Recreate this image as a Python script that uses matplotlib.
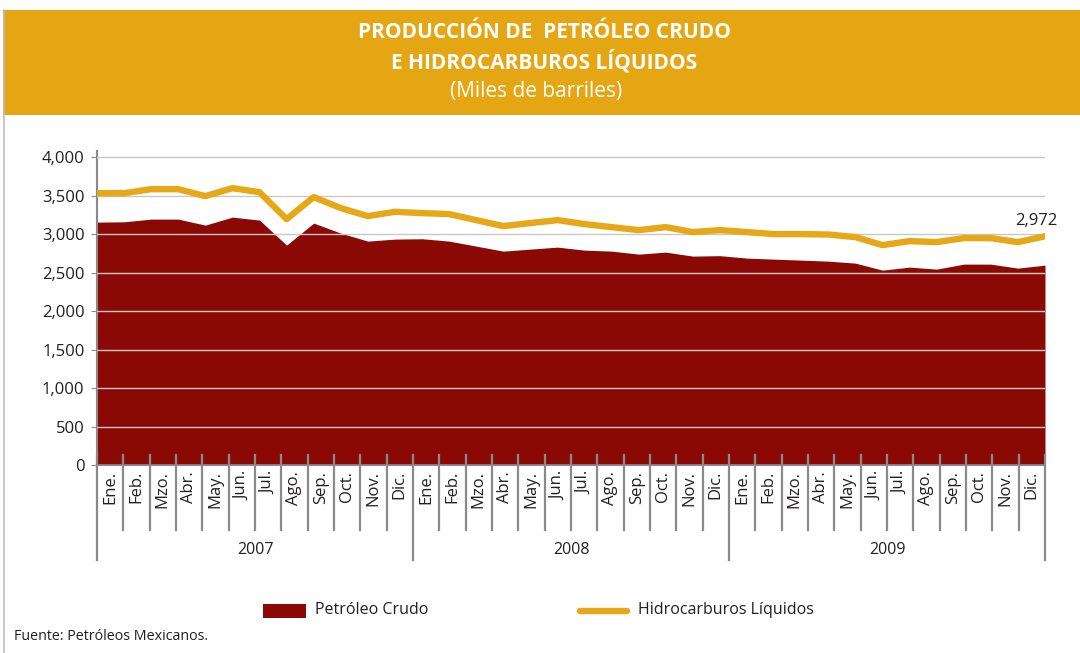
import matplotlib
matplotlib.use("Agg")
import matplotlib.pyplot as plt
from matplotlib.patches import Rectangle
from matplotlib.lines import Line2D
import matplotlib.transforms as mtransforms
import numpy as np

plt.rcParams['font.family'] = ['Open Sans', 'DejaVu Sans']

months = ["Ene.", "Feb.", "Mzo.", "Abr.", "May.", "Jun.", "Jul.", "Ago.",
          "Sep.", "Oct.", "Nov.", "Dic."]
years = ["2007", "2008", "2009"]

crudo = [3156, 3160, 3195, 3195, 3117, 3221, 3182, 2857, 3143, 3013, 2909, 2935,
         2940, 2909, 2844, 2779, 2805, 2831, 2792, 2779, 2740, 2766, 2714, 2720,
         2688, 2675, 2662, 2649, 2623, 2532, 2571, 2545, 2610, 2610, 2558, 2597]
liquidos = [3532, 3532, 3584, 3584, 3494, 3597, 3545, 3195, 3481, 3338, 3234, 3290,
            3273, 3260, 3182, 3104, 3143, 3182, 3130, 3091, 3052, 3091, 3026, 3052,
            3026, 3000, 3000, 2995, 2961, 2857, 2909, 2896, 2948, 2948, 2896, 2972]

y_ticks = [0, 500, 1000, 1500, 2000, 2500, 3000, 3500, 4000]

RED = "#8B0904"
GOLD = "#E6A817"
HEADER = "#E5A614"
TXT = "#231F20"
GRID = "#C8C8C8"
AXC = "#8A8A8C"

W, H = 1080, 653
fig = plt.figure(figsize=(W / 100, H / 100), dpi=100)
fig.patch.set_facecolor("white")

# header band
fig.patches.append(Rectangle((3 / W, 1 - 115 / H), 1, 105 / H, transform=fig.transFigure,
                             facecolor=HEADER, edgecolor="none", zorder=0))
# left border
fig.add_artist(Line2D([3.5 / W, 3.5 / W], [0, 1 - 10 / H], transform=fig.transFigure,
                      color="#BDBDBD", lw=1.2))

fig.text(544 / W, 1 - 33 / H, "PRODUCCIÓN DE  PETRÓLEO CRUDO", ha="center", va="center",
         color="white", fontsize=15, fontweight="bold")
fig.text(544 / W, 1 - 62 / H, "E HIDROCARBUROS LÍQUIDOS", ha="center", va="center",
         color="white", fontsize=15, fontweight="bold")
fig.text(536 / W, 1 - 91 / H, "(Miles de barriles)", ha="center", va="center",
         color="white", fontsize=15)

# axes
left, right, top, bottom = 97, 1045, 151, 465
ax = fig.add_axes([left / W, 1 - bottom / H, (right - left) / W, (bottom - top) / H])
n = len(crudo)
x = np.arange(n)
ax.set_xlim(0, n - 1)
ax.set_ylim(0, 4080)

ax.fill_between(x, 0, crudo, color=RED, linewidth=0, zorder=2)
ax.plot(x, liquidos, color=GOLD, lw=4.6, solid_capstyle="round", solid_joinstyle="round", zorder=4)

for v in y_ticks[1:]:
    ax.axhline(v, color=GRID, lw=1.0, zorder=3)
ax.set_yticks(y_ticks)
ax.set_yticklabels([f"{v:,}" for v in y_ticks], fontsize=12, color=TXT)
ax.tick_params(axis="y", length=4, color=AXC, pad=5)
ax.set_xticks([])
for s in ["top", "right"]:
    ax.spines[s].set_visible(False)
ax.spines["left"].set_color(AXC)
ax.spines["left"].set_linewidth(1.5)
ax.spines["bottom"].set_color(AXC)
ax.spines["bottom"].set_linewidth(1.2)
ax.spines["bottom"].set_zorder(5)

ax.annotate(f"{liquidos[-1]:,}", (x[-1], liquidos[-1]), xytext=(-6, 5),
            textcoords="offset points", ha="center", va="bottom",
            fontsize=12, color=TXT, annotation_clip=False)

# category axis
trans = mtransforms.blended_transform_factory(ax.transData, ax.transAxes)
pxy = 1.0 / (bottom - top)
step = (n - 1) / n
labels = [m for _ in years for m in months]
for k in range(n + 1):
    xb = k * step
    is_year = (k % 12 == 0)
    y0 = 10 * pxy
    y1 = -(95 if is_year else 65) * pxy
    ax.add_line(Line2D([xb, xb], [y0, y1], transform=trans, color=AXC, lw=1.6,
                       clip_on=False, zorder=6))
for k, lab in enumerate(labels):
    ax.text((k + 0.5) * step, -6 * pxy, lab, transform=trans, rotation=90,
            ha="center", va="top", fontsize=12, color=TXT)
for j, yr in enumerate(years):
    ax.text((j * 12 + 6) * step, -85 * pxy, yr, transform=trans, ha="center",
            va="center", fontsize=11.5, color=TXT)

# legend
fig.patches.append(Rectangle((263 / W, 1 - 618 / H), 43 / W, 14 / H, transform=fig.transFigure,
                             facecolor=RED, edgecolor="none"))
fig.text(315 / W, 1 - 610 / H, "Petróleo Crudo", ha="left", va="center", fontsize=11.5, color=TXT)
fig.add_artist(Line2D([580 / W, 627 / W], [1 - 611 / H, 1 - 611 / H], transform=fig.transFigure,
                      color=GOLD, lw=4.6, solid_capstyle="round"))
fig.text(638 / W, 1 - 610 / H, "Hidrocarburos Líquidos", ha="left", va="center", fontsize=11.5, color=TXT)

fig.text(14 / W, 1 - 637 / H, "Fuente: Petróleos Mexicanos.", ha="left", va="center",
         fontsize=10.3, color=TXT)

fig.savefig("out.png", dpi=100)
